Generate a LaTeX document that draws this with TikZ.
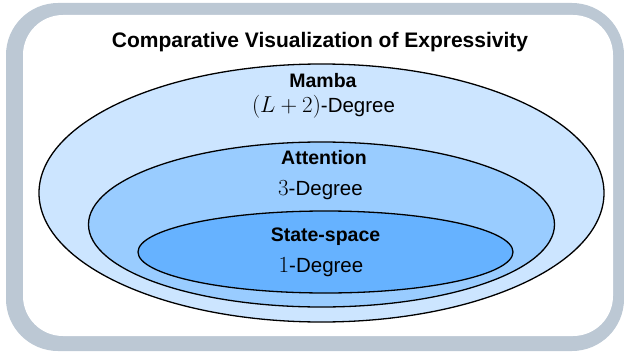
\RequirePackage{fix-cm}
\documentclass[tikz,border=0pt]{standalone}
\usepackage{fontspec}
\setmainfont{Liberation Sans}
\usetikzlibrary{shapes.geometric}
\DeclareMathSizes{20.5}{23}{17}{12}
\definecolor{framegray}{RGB}{188,200,212}
\definecolor{fillA}{RGB}{204,229,255}
\definecolor{fillB}{RGB}{153,204,255}
\definecolor{fillC}{RGB}{102,178,255}
\begin{document}
\begin{tikzpicture}[x=1pt,y=-1pt,
  ring/.style={draw=black,line width=1.3pt},
  head/.style={anchor=base,font=\fontsize{19.5}{22}\selectfont\bfseries,inner sep=0pt},
  deg/.style={anchor=base,font=\fontsize{20.5}{23}\selectfont,inner sep=0pt},
  ttl/.style={anchor=base,font=\fontsize{21}{24}\selectfont\bfseries,inner sep=0pt}]
\useasboundingbox (0,0) rectangle (624,353);
\fill[framegray,rounded corners=52pt] (6,3) rectangle (624,351);
\fill[white,rounded corners=40pt] (23,15) rectangle (613,336);
\node[ttl] (title) at (320,48) {Comparative Visualization of Expressivity};
\draw[ring,fill=fillA] (321.5,193) ellipse [x radius=282.5, y radius=129];
\draw[ring,fill=fillB] (321.5,224.5) ellipse [x radius=233, y radius=82.5];
\draw[ring,fill=fillC] (325.5,252) ellipse [x radius=187.5, y radius=41];
\node[head] (mamba) at (323,88) {Mamba};
\node[deg] (mambadeg) at (323.5,112) {$(L+2)$-Degree};
\node[head] (att) at (324,164) {Attention};
\node[deg] (attdeg) at (320.5,195) {$3$-Degree};
\node[head] (ss) at (325.5,241) {State-space};
\node[deg] (ssdeg) at (321,272) {$1$-Degree};
\end{tikzpicture}
\end{document}
